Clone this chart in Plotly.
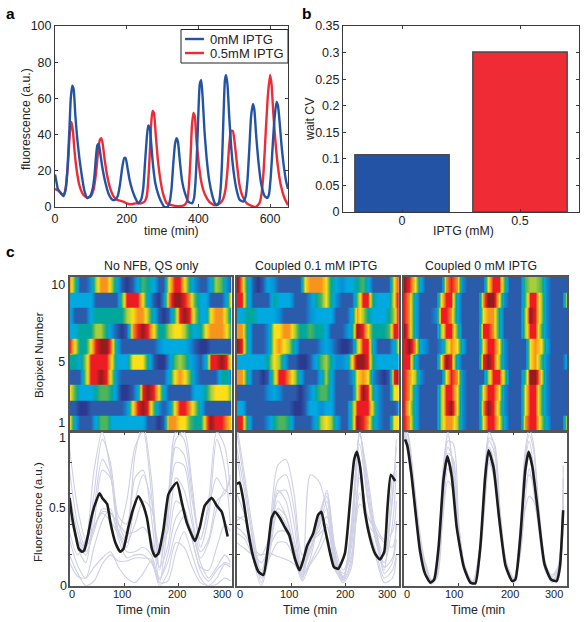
import plotly.graph_objects as go
import numpy as np

W, H = 586, 622
FONT = "Liberation Sans"
FRAME = "#3a3a3a"
BLUE = "#2353a4"
RED = "#ef2b36"
LIGHT = "#cfcfe6"

# ---------- panel a ----------
a_blue_t = [0,3,8,15,24,30,35,40,44,48,52,57,62,68,75,82,90,98,105,110,114,118,122,126,132,140,150,160,168,175,181,187,193,197,202,208,216,224,232,240,246,251,256,260,264,268,273,280,288,296,305,314,320,325,330,335,339,343,348,354,362,372,382,388,392,396,400,404,408,412,417,423,430,438,446,452,458,462,466,470,474,477,481,486,492,498,506,515,525,532,537,542,547,552,556,561,567,575,585,592,597,602,607,612,618,622,627,632,638,645,650]
a_blue_v = [18,15,10,8,6,10,22,42,60,67,65,50,38,27,17,9,5,6,10,17,27,34,35,30,22,14,7,4,4,6,12,21,27,27,22,15,9,5,2,4,10,24,38,45,44,36,24,13,7,3,0,0,3,10,24,35,38,36,26,15,8,3,2,5,14,30,52,68,70,60,42,27,15,7,2,1,3,10,25,50,70,73,68,50,32,20,10,4,3,6,15,32,50,57,54,40,26,13,6,5,7,17,33,48,58,56,46,34,23,14,10]
a_red_t = [0,10,20,27,32,37,41,46,50,54,60,68,78,90,100,108,114,120,125,129,133,138,145,153,163,172,190,200,210,225,240,250,256,260,264,268,272,276,281,287,294,302,312,325,345,360,368,373,378,382,386,390,395,401,408,418,430,445,460,468,475,481,486,491,496,501,507,514,523,535,550,560,570,576,582,588,594,600,604,609,615,622,630,640,650]
a_red_v = [10,9,7,8,14,26,40,47,42,32,21,12,7,5,6,10,18,30,37,38,35,27,18,11,6,4,3,2,1.5,2,2,3,6,14,28,45,53,52,40,26,15,7,2,1,0.5,1,3,10,27,45,52,50,36,24,14,7,3,1,2,4,9,20,34,42,42,36,25,13,6,2,0.5,0,2,7,20,42,62,73,68,52,36,22,12,5,1]
assert len(a_blue_t) == len(a_blue_v) and len(a_red_t) == len(a_red_v)
a_names = ["0mM IPTG", "0.5mM IPTG"]

# ---------- panel b ----------
b_labels = ["0", "0.5"]
b_values = [0.108, 0.301]

# ---------- panel c heatmaps (top row = biopixel 10) ----------
heat_no_nfb = [
 [8,5,1,1,2,6,8,8,6,3,1,0,1,3,5,4,3,1,1,7,9,9,7,4,2,1,1,3,6,5,2,1],
 [3,3,3,3,3,1,1,1,1,1,5,9,9,9,7,3,1,0,2,8,10,10,9,8,5,3,3,1,1,1,3,8],
 [3,1,1,1,3,4,4,4,4,4,4,6,7,8,8,6,3,1,0,1,5,9,10,9,6,3,3,7,8,8,6,3],
 [3,3,4,4,4,6,6,4,2,1,0,1,8,9,10,9,7,4,4,6,7,7,6,4,3,4,7,8,8,8,7,4],
 [9,7,4,4,7,9,10,10,8,3,1,1,1,1,1,1,1,2,3,3,3,3,3,2,1,0,0,1,1,1,1,1],
 [4,4,3,6,9,9,9,9,7,3,3,3,7,7,7,4,1,0,0,2,5,6,5,3,2,1,3,9,9,10,9,6],
 [1,1,1,6,9,9,10,9,6,2,1,1,1,1,1,1,1,1,1,3,7,8,7,5,2,1,1,1,1,4,4,1],
 [7,5,3,3,3,4,5,5,4,2,0,0,1,3,9,10,9,7,3,1,1,1,1,1,3,3,4,6,7,7,7,5],
 [1,1,0,0,1,1,1,1,1,1,1,2,7,9,10,9,5,2,1,2,7,9,9,8,6,3,1,1,1,1,1,1],
 [7,3,1,1,1,3,5,5,3,3,3,3,3,3,3,1,1,0,1,8,8,7,7,5,4,4,8,10,9,9,8,7],
]
heat_coupled_01 = [
 [10,8,4,1,0,1,3,2,1,1,1,1,1,7,8,8,8,7,4,3,2,3,3,4,5,3,1,1,1,1,7,9],
 [9,9,4,1,1,1,1,4,3,3,3,1,1,1,2,4,5,7,4,2,1,1,1,5,9,9,4,3,3,3,7,10],
 [3,3,4,4,3,3,3,3,2,1,1,1,1,1,2,3,3,3,3,1,1,1,3,8,6,4,3,3,3,4,6,10],
 [8,8,4,1,1,1,2,7,7,8,8,6,4,4,5,4,4,3,1,1,1,2,4,10,9,7,4,4,4,5,9,9],
 [10,9,4,1,1,1,2,7,8,7,6,3,1,1,1,1,2,3,2,1,0,0,1,6,9,9,3,1,1,1,3,7],
 [3,3,3,3,3,3,4,7,6,3,1,1,0,0,1,3,5,6,4,2,2,3,7,10,10,9,4,3,3,3,3,3],
 [8,8,4,1,1,0,1,6,9,9,8,6,3,1,1,1,3,6,3,1,1,1,2,7,8,7,2,1,0,1,9,10],
 [1,1,1,1,1,1,2,3,2,1,1,1,0,1,2,4,5,5,3,1,1,1,1,7,10,9,4,2,1,1,7,7],
 [3,3,1,1,1,1,1,1,1,1,1,0,0,1,3,3,2,3,3,1,1,1,5,9,9,9,6,2,1,1,1,2],
 [9,9,4,1,1,1,2,4,5,5,4,1,1,1,1,3,6,7,6,3,1,1,5,10,9,8,4,2,1,1,7,7],
]
heat_coupled_0 = [
 [10,9,7,3,1,1,1,1,8,9,8,2,1,1,1,1,7,9,9,5,1,1,1,5,6,6,5,2,1,1,1,1],
 [9,8,3,1,1,1,1,7,9,9,3,1,1,1,1,8,10,10,7,2,1,1,1,5,9,9,6,2,1,1,1,7],
 [9,8,3,1,1,1,2,9,9,8,3,1,1,1,1,7,8,8,4,1,1,1,1,6,10,9,6,2,1,1,1,1],
 [10,8,3,1,1,1,1,6,9,9,5,1,1,1,1,9,9,8,4,1,1,1,1,6,9,9,5,2,1,1,1,1],
 [9,10,8,3,2,1,1,2,6,8,7,3,1,1,1,7,9,9,7,2,1,1,1,1,7,8,7,3,1,1,1,1],
 [9,9,3,1,1,1,1,7,10,9,3,1,1,1,1,9,10,9,6,2,1,1,1,1,7,8,5,2,1,1,1,3],
 [9,8,6,2,1,1,1,1,7,9,8,2,1,1,1,1,6,9,9,6,1,1,1,5,10,10,7,2,1,1,1,1],
 [9,8,3,1,1,1,1,6,9,9,7,2,1,1,1,7,9,9,7,2,1,1,1,7,9,9,5,2,1,1,1,1],
 [9,7,3,1,1,1,1,6,9,10,7,2,1,1,1,8,10,9,6,2,1,1,1,7,9,9,5,2,1,1,1,1],
 [9,8,3,1,1,1,1,6,8,8,6,2,1,1,1,7,9,9,7,3,1,1,1,8,9,9,6,3,1,1,1,7],
]
heat_titles = ["No NFB, QS only", "Coupled 0.1 mM IPTG", "Coupled 0 mM IPTG"]
row_ticks = [1, 5, 10]
level_colors = ["#2b3990","#2a5cab","#0a8fd6","#00a9e0","#00a79d","#4fb45a",
                "#a6ce39","#ffde17","#f7941e","#ed1c24","#961b1e"]

# ---------- panel c traces ----------
c1_black_t = [0,5,11,17,23,27,34,40,46,55,60,69,75,84,93,99,108,116,126,133,142,151,157,163,172,181,187,197,206,215,230,239,248,261,270,279,290]
c1_black_v = [.57,.44,.33,.24,.22,.23,.33,.44,.52,.60,.57,.53,.41,.28,.22,.24,.38,.49,.58,.54,.44,.24,.19,.21,.36,.59,.63,.67,.54,.41,.29,.38,.52,.57,.52,.48,.32]
c2_black_t = [0,5,12,21,30,40,49,58,64,70,79,88,96,107,115,122,129,140,149,155,161,171,178,186,198,207,215,220,226,235,244,253,262,270,276,282,290]
c2_black_v = [.66,.67,.56,.35,.19,.09,.07,.27,.44,.48,.44,.38,.33,.17,.10,.17,.26,.34,.46,.48,.38,.21,.12,.11,.21,.53,.82,.87,.77,.47,.31,.21,.17,.22,.51,.72,.68]
c3_black_t = [2,6,14,20,29,38,48,55,63,72,79,87,96,109,121,130,139,148,154,163,173,185,197,203,212,221,227,234,243,256,268,278,284,290]
c3_black_v = [.95,.91,.71,.51,.23,.08,.02,.04,.25,.69,.84,.71,.38,.12,.02,.015,.25,.71,.88,.77,.45,.13,.03,.04,.32,.75,.87,.77,.51,.14,.04,.03,.12,.49]

c1_t = [0,15,30,45,60,75,90,105,120,135,150,165,180,195,210,225,240,255,270,285,295]
c1_lines = [
 [.90,.50,.30,.75,1.0,.75,.35,.55,.90,1.0,.60,.10,.50,1.0,.95,.60,.30,.55,1.0,.90,.60],
 [.75,.40,.25,.60,.95,.80,.45,.40,.85,1.05,.70,.12,.55,.95,1.0,.65,.25,.45,.95,.75,.40],
 [.55,.25,.15,.50,.82,.72,.40,.30,.70,.75,.45,.02,.40,.90,.85,.55,.30,.50,.70,.62,.72],
 [.50,.30,.20,.40,.75,.70,.35,.25,.55,.72,.55,.20,.45,.80,.78,.45,.22,.30,.55,.60,.70],
 [.60,.35,.22,.35,.50,.48,.35,.28,.40,.55,.50,.25,.35,.70,.62,.40,.18,.28,.50,.62,.58],
 [.45,.30,.25,.38,.48,.47,.40,.34,.35,.38,.30,.12,.25,.55,.50,.30,.12,.10,.25,.40,.35],
 [.35,.20,.30,.38,.47,.42,.33,.22,.22,.25,.20,.05,.15,.35,.45,.35,.15,.05,.12,.20,.15],
 [.30,.13,.05,.25,.42,.50,.30,.18,.20,.20,.15,.04,.20,.44,.50,.30,.10,.03,.10,.15,.14],
 [.20,.08,.00,.03,.14,.20,.16,.16,.18,.18,.17,.02,.03,.22,.35,.20,.05,.00,.05,.14,.12],
 [.15,.06,.05,.12,.18,.22,.12,.05,.02,.08,.16,.00,.08,.28,.25,.12,.02,.00,.01,.05,.03],
]
c2_t = [0,15,30,45,60,75,90,105,120,135,150,165,180,195,210,225,240,255,270,285,292]
c2_lines = [
 [1.05,.70,.35,.08,.35,.78,.82,.60,.20,.25,.40,.62,.25,.10,.30,.98,.70,.35,.20,.55,.95],
 [1.00,.65,.30,.05,.30,.68,.72,.50,.12,.22,.45,.60,.22,.06,.35,1.0,.65,.30,.12,.60,.90],
 [.90,.60,.28,.02,.25,.60,.62,.40,.06,.18,.42,.58,.20,.05,.40,1.0,.55,.28,.10,.70,.78],
 [.60,.45,.20,.05,.25,.50,.45,.25,.05,.72,.68,.50,.15,.05,.40,1.0,.60,.30,.15,.40,.75],
 [.85,.50,.18,.00,.20,.48,.40,.25,.04,.30,.38,.55,.18,.04,.30,.92,.55,.38,.30,.35,.55],
 [.45,.42,.25,.10,.30,.62,.55,.30,.10,.25,.38,.50,.18,.06,.25,.70,.45,.35,.28,.25,.40],
 [.42,.45,.25,.20,.32,.55,.45,.25,.09,.30,.35,.45,.16,.08,.20,.53,.45,.35,.12,.18,.42],
 [.38,.33,.22,.15,.25,.35,.35,.20,.08,.28,.33,.38,.14,.03,.18,.60,.40,.32,.08,.15,.30],
 [.34,.30,.18,.08,.18,.28,.28,.18,.03,.15,.26,.40,.12,.02,.12,.75,.40,.22,.05,.10,.20],
 [.28,.24,.20,.20,.21,.19,.17,.14,.07,.14,.22,.32,.10,.04,.15,.80,.35,.18,.02,.05,.18],
]
c3_t = [0,8,20,30,40,50,60,70,80,90,100,112,125,138,148,155,165,175,187,200,212,220,228,236,245,257,270,280,290]
c3_lines = [
 [1.05,.98,.62,.32,.12,.03,.12,.72,1.00,.72,.30,.08,.01,.22,.80,1.00,.90,.48,.14,.03,.40,.85,1.02,.92,.55,.16,.04,.04,.78],
 [1.05,.96,.56,.28,.11,.02,.10,.62,.98,.75,.34,.10,.02,.20,.72,.96,.92,.50,.12,.04,.35,.80,.98,.88,.50,.14,.03,.06,.70],
 [1.02,.92,.54,.26,.10,.03,.12,.60,.94,.92,.40,.09,.01,.18,.72,.94,.86,.44,.10,.02,.30,.76,.94,.78,.48,.13,.05,.05,.62],
 [1.00,.88,.52,.24,.12,.02,.10,.58,.90,.80,.36,.08,.02,.24,.70,.90,.78,.42,.12,.03,.28,.70,.85,.72,.44,.12,.02,.08,.55],
 [.98,.90,.50,.26,.14,.04,.08,.55,.86,.82,.34,.12,.03,.22,.68,.86,.75,.40,.15,.05,.26,.62,.72,.68,.42,.12,.06,.10,.45],
 [.96,.88,.50,.24,.08,.02,.08,.50,.82,.72,.38,.10,.02,.25,.66,.85,.72,.38,.14,.02,.20,.48,.58,.55,.40,.14,.07,.12,.40],
 [.96,.86,.48,.22,.09,.01,.06,.44,.76,.66,.32,.09,.01,.20,.60,.82,.70,.38,.10,.03,.22,.52,.76,.62,.38,.10,.03,.08,.35],
 [.98,.84,.50,.25,.10,.03,.05,.40,.68,.62,.30,.08,.02,.18,.55,.80,.68,.35,.12,.04,.30,.66,.84,.70,.42,.15,.04,.09,.58],
]
time_label_text = ["0", "100", "200", "300"]
time_tick_vals = [100, 200]
frac_tick_vals = [0.2, 0.4, 0.6, 0.8]

def px(x): return x / W
def py(y): return 1 - y / H

heat_cols = [(69.5, 231.5), (236.7, 399.0), (404.0, 567.0)]
title_px = [152, 316, 481]
label_px = [(72,122,177,222), (240,289,345,387), (407,454,510,554)]
heat_sets = [heat_no_nfb, heat_coupled_01, heat_coupled_0]
light_sets = [(c1_t, c1_lines), (c2_t, c2_lines), (c3_t, c3_lines)]
black_sets = [(c1_black_t, c1_black_v), (c2_black_t, c2_black_v), (c3_black_t, c3_black_v)]

fig = go.Figure()
layout = dict(
    template="none",
    width=W, height=H, margin=dict(l=0, r=0, t=0, b=0, pad=0),
    paper_bgcolor="white", plot_bgcolor="white",
    font=dict(family=FONT, size=12.5, color="#222"),
    autosize=False, showlegend=False,
)
annots = []
shapes = []
def text(x, y, s, size=12, rot=0, weight="normal", color="#222", anchor="center"):
    annots.append(dict(xref="paper", yref="paper", x=px(x), y=py(y), text=s, showarrow=False,
                       xanchor=anchor, yanchor="middle", textangle=rot,
                       xshift=0, borderpad=0,
                       font=dict(size=size, family=FONT, weight=weight, color=color)))

common = dict(showgrid=False, zeroline=False, showline=True, linecolor=FRAME, linewidth=1,
              mirror="allticks", ticks="inside", ticklen=3, tickcolor=FRAME)

# Panel a
layout["xaxis"] = dict(domain=[px(55), px(288)], range=[0, 650], anchor="y",
                       tickvals=[0,200,400,600], tickfont=dict(size=12.5), **common)
layout["yaxis"] = dict(domain=[py(207), py(26)], range=[0, 100], anchor="x",
                       tickvals=[0,20,40,60,80,100], tickfont=dict(size=12.5), **common)
fig.add_trace(go.Scatter(x=a_red_t, y=a_red_v, name=a_names[1], mode="lines",
                         line=dict(color=RED, width=2.4, shape="spline", smoothing=0.5), xaxis="x", yaxis="y"))
fig.add_trace(go.Scatter(x=a_blue_t, y=a_blue_v, name=a_names[0], mode="lines",
                         line=dict(color=BLUE, width=2.4, shape="spline", smoothing=0.5), xaxis="x", yaxis="y"))
text(171, 231, "time (min)", 12.3)
text(26, 119, "fluorescence (a.u.)", 12.3, -90)
# legend box for panel a
def pshape(**kw):
    shapes.append(dict(xref="paper", yref="paper", **kw))
pshape(type="rect", x0=px(181), x1=px(288), y0=py(63), y1=py(29.5), fillcolor="white",
       line=dict(color="#222", width=1))
for yy, col, name in [(39, BLUE, a_names[0]), (53, RED, a_names[1])]:
    pshape(type="line", x0=px(185), x1=px(204), y0=py(yy), y1=py(yy), line=dict(color=col, width=2.4))
    text(209, yy, name, 13, anchor="left")

# Panel b
layout["xaxis2"] = dict(domain=[px(343), px(579)], range=[0.5, 2.5], anchor="y2",
                        tickvals=[1,2], ticktext=b_labels, tickfont=dict(size=12.5),
                        ticklabelstandoff=-3, **common)
layout["yaxis2"] = dict(domain=[py(212), py(26)], range=[0, 0.35], anchor="x2",
                        tickvals=[0,.05,.1,.15,.2,.25,.3,.35],
                        ticktext=["0","0.05","0.1","0.15","0.2","0.25","0.3","0.35"],
                        tickfont=dict(size=12.5), **common)
fig.add_trace(go.Bar(x=[1,2], y=b_values, width=0.8,
                     marker=dict(color=[BLUE, RED], line=dict(color="#4a4a4a", width=1.4)),
                     xaxis="x2", yaxis="y2"))
text(463, 231, "IPTG (mM)", 12.3)
text(310, 119, "wait CV", 12.3, -90)

# Panel letters
text(10, 14, "a", 15.5, weight="bold", color="#000")
text(306, 13, "b", 15.5, weight="bold", color="#000")
text(10, 251, "c", 15.5, weight="bold", color="#000")

# Panel c
scale = [[i/10, c] for i, c in enumerate(level_colors)]
axn = 3
thick = dict(showgrid=False, zeroline=False, showline=True, linecolor="#555", linewidth=1.6, mirror="all")
for k, (x0, x1) in enumerate(heat_cols):
    xh, yh, xl, yl = axn, axn+1, axn+2, axn+3
    axn += 4
    rows = np.array(heat_sets[k], dtype=float)[::-1]
    z = np.repeat(rows, 12, axis=0)
    ys = 0.5 + (np.arange(z.shape[0]) + 0.5) / 12
    xs = (np.arange(z.shape[1]) + 0.5) * 297 / z.shape[1]
    fig.add_trace(go.Heatmap(z=z, x=xs, y=ys, zmin=0, zmax=10, colorscale=scale, zsmooth="best",
                             showscale=False, xaxis=f"x{xh}", yaxis=f"y{yh}"))
    layout[f"xaxis{xh}"] = dict(domain=[px(x0), px(x1)], range=[4.6, 292.4], anchor=f"y{yh}",
                                showticklabels=False, ticks="", **thick)
    yt = dict(domain=[py(430.7), py(276.7)], range=[0.5, 10.5], anchor=f"x{xh}", ticks="", **thick)
    if k == 0:
        yt.update(tickvals=row_ticks, tickfont=dict(size=12.5))
    else:
        yt.update(showticklabels=False)
    layout[f"yaxis{yh}"] = yt

    lt, lset = light_sets[k]
    for line in lset:
        assert len(lt) == len(line)
        fig.add_trace(go.Scatter(x=lt, y=line, mode="lines",
                                 line=dict(color=LIGHT, width=1.1, shape="spline", smoothing=0.8),
                                 xaxis=f"x{xl}", yaxis=f"y{yl}"))
    bt, bv = black_sets[k]
    assert len(bt) == len(bv)
    fig.add_trace(go.Scatter(x=bt, y=bv, mode="lines",
                             line=dict(color="#1c1c1c", width=2.6, shape="spline", smoothing=0.5),
                             xaxis=f"x{xl}", yaxis=f"y{yl}"))
    layout[f"xaxis{xl}"] = dict(domain=[px(x0), px(x1)], range=[0, 297], anchor=f"y{yl}",
                                tickvals=time_tick_vals, ticks="inside", ticklen=3, tickcolor="#444",
                                showticklabels=False,
                                showgrid=False, zeroline=False, showline=True, linecolor="#555",
                                linewidth=1.6, mirror="allticks")
    layout[f"yaxis{yl}"] = dict(domain=[py(585.7), py(431.7)], range=[0, 1], anchor=f"x{xl}",
                                tickvals=frac_tick_vals, ticks="inside", ticklen=3, tickcolor="#444",
                                showticklabels=False,
                                showgrid=False, zeroline=False, showline=True, linecolor="#555",
                                linewidth=1.6, mirror="allticks")
    text(title_px[k], 265.5, heat_titles[k], 12.3)
    for lx, s in zip(label_px[k], time_label_text):
        text(lx, 593.5, s, 11)
    text((x0 + x1)/2 - 8, 610, "Time (min", 12.3)

text(38, 355, "Biopixel Number", 11.7, -90)
text(37, 512, "Fluorescence (a.u.)", 11.6, -90)
text(62, 438, "1", 12.5)
text(57, 508, "0.5", 12)
text(63, 586, "0", 12.5)

layout["annotations"] = annots
layout["shapes"] = shapes
fig.update_layout(**layout)
fig.write_html("out.html", config=dict(displayModeBar=False),
               post_script="document.body.style.margin='0';window.dispatchEvent(new Event('resize'));")
